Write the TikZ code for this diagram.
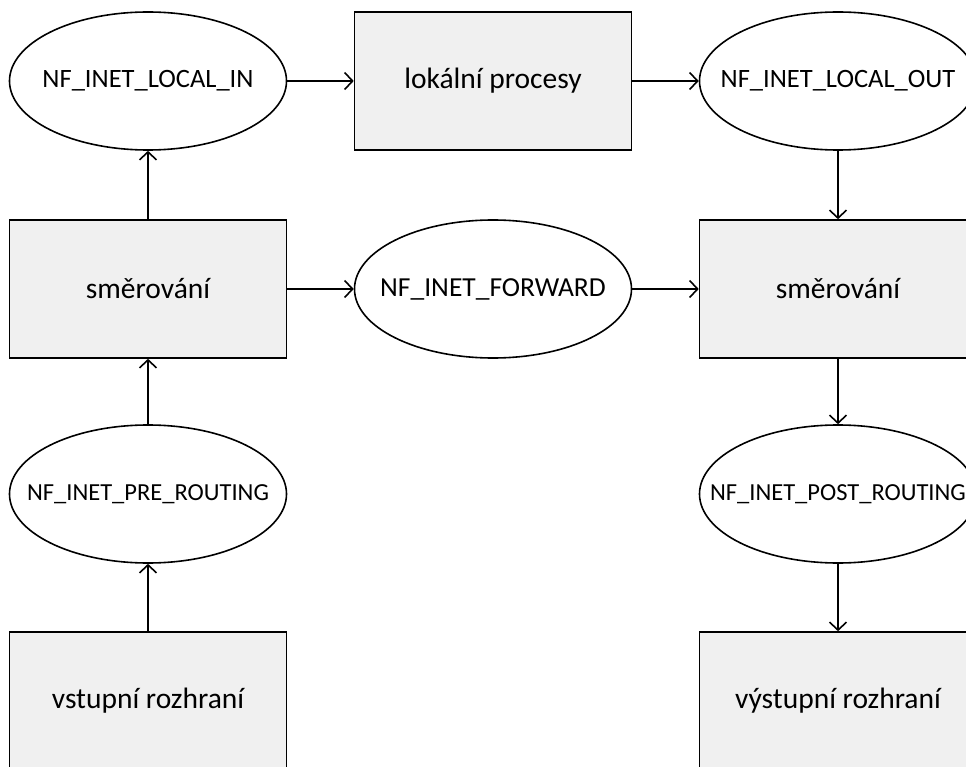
\documentclass[tikz,border=0pt]{standalone}
\usepackage{fontspec}
\setmainfont{Carlito}
\usetikzlibrary{arrows.meta,shapes.geometric}
\definecolor{boxfill}{RGB}{240,240,240}
\tikzset{
  stage/.style={draw=black,line width=1.6pt,fill=boxfill,minimum width=277pt,minimum height=138pt,inner sep=0pt,font=\fontsize{29.5}{33}\selectfont},
  hook/.style={ellipse,draw=black,line width=1.6pt,fill=white,minimum width=277pt,minimum height=138pt,inner sep=0pt,font=\fontsize{26.5}{30}\selectfont},
  smallhook/.style={hook,font=\fontsize{24.5}{28}\selectfont},
  flow/.style={line width=1.6pt,-{Straight Barb[length=8pt,width=17pt]}}
}
% text of fixed-size nodes takes no width, so the shapes keep their size
\newcommand{\lbl}[1]{\makebox[0pt]{#1}}
\begin{document}
\begin{tikzpicture}[x=1pt,y=-1pt]
  \useasboundingbox (0,0) rectangle (966,767);
  \clip (0,0) rectangle (966,767);
  % top row
  \node[hook]  (localin)  at (148,81)  {\lbl{NF\_INET\_LOCAL\_IN}};
  \node[stage] (procesy)  at (493,81)  {\lbl{lokální procesy}};
  \node[hook]  (localout) at (838,81)  {\lbl{NF\_INET\_LOCAL\_OUT}};
  % routing row
  \node[stage] (smerin)   at (148,289) {\lbl{směrování}};
  \node[hook,font=\fontsize{27.5}{31}\selectfont] (forward) at (493,289) {\lbl{NF\_INET\_FORWARD}};
  \node[stage] (smerout)  at (838,289) {\lbl{směrování}};
  % hooks next to the interfaces
  \node[smallhook] (pre)  at (148,494) {\lbl{NF\_INET\_PRE\_ROUTING}};
  \node[smallhook] (post) at (838,494) {\lbl{NF\_INET\_POST\_ROUTING}};
  % interfaces
  \node[stage] (vstup)    at (148,701) {\lbl{vstupní rozhraní}};
  \node[stage] (vystup)   at (838,701) {\lbl{výstupní rozhraní}};
  % packet flow
  \draw[flow] (vstup.north)    -- (pre.south);
  \draw[flow] (pre.north)      -- (smerin.south);
  \draw[flow] (smerin.north)   -- (localin.south);
  \draw[flow] (localin.east)   -- (procesy.west);
  \draw[flow] (procesy.east)   -- (localout.west);
  \draw[flow] (localout.south) -- (smerout.north);
  \draw[flow] (smerin.east)    -- (forward.west);
  \draw[flow] (forward.east)   -- (smerout.west);
  \draw[flow] (smerout.south)  -- (post.north);
  \draw[flow] (post.south)     -- (vystup.north);
\end{tikzpicture}
\end{document}
